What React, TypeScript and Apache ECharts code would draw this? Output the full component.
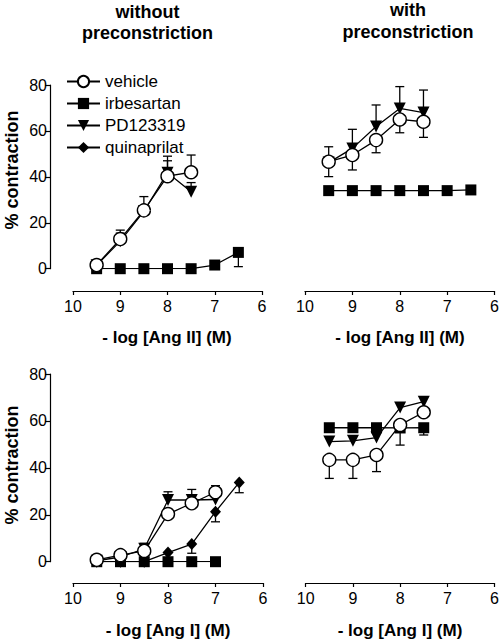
import React, { useEffect, useRef } from 'react';
import * as echarts from 'echarts';

const FONT = '"Liberation Sans", Arial, Helvetica, sans-serif';

// doses (-log M)
const DOSE = [9.5, 9, 8.5, 8, 7.5, 7, 6.5];
const X_TICKS = [10, 9, 8, 7, 6];
const Y_TICKS = [0, 20, 40, 60, 80];
const SERIES_NAMES = ['vehicle', 'irbesartan', 'PD123319', 'quinaprilat'];

// Top-left: Ang II without preconstriction
const tlVehicle = [1.6, 12.9, 25.4, 40.3, 42.0];
const tlVehicleErr = [null, 16.8, 31.4, 47.0, 49.5];
const tlPD = [1.5, 12.0, 25.0, 41.8, 33.5];
const tlPDErr = [null, 15.5, null, 49.0, 37.5];
const tlIrb = [0, 0, 0, 0, 0, 1.6, 7.1];
const tlIrbErr = [null, null, null, null, null, null, 0.9];

// Top-right: Ang II with preconstriction
const trVehicle = [46.6, 49.5, 56.0, 65.0, 64.0];
const trVehicleErr = [40.1, 43.0, 50.5, 59.2, 57.2];
const trPD = [46.2, 52.4, 61.9, 69.8, 68.0];
const trPDErr = [53.1, 60.7, 71.3, 79.3, 77.8];
const trIrb = [34, 34, 34, 34, 34, 34, 34.3];

// Bottom-left: Ang I without preconstriction
const blVehicle = [0.8, 2.8, 4.6, 20.3, 24.9, 29.6];
const blVehicleErr = [null, 4.3, 7.8, null, 30.8, 32.4];
const blPD = [0.4, 2.0, 5.5, 26.3, 26.3, 26.5];
const blPDErr = [null, null, null, 29.8, null, null];
const blQuin = [0, 0, 0, 3.9, 7.5, 21.3, 33.8];
const blQuinErr = [null, null, null, null, 3.6, 17.0, 29.4];
const blIrb = [0, 0, 0, 0, 0, 0];

// Bottom-right: Ang I with preconstriction
const brVehicle = [43.4, 43.4, 45.5, 58.3, 63.7];
const brVehicleErr = [35.5, 35.5, 38.4, 49.7, null];
const brPD = [51.2, 51.5, 52.9, 65.7, 68.2];
const brPDErr = [53.3, 53.6, null, null, 70.3];
const brIrb = [57.1, 57.1, 57.1, 57.0, 57.1];
const brIrbErr = [null, null, null, null, 54.0];

const STYLE: Record<string, any> = {
  vehicle: { symbol: 'circle', symbolSize: 13, itemStyle: { color: '#fff', borderColor: '#000', borderWidth: 1.4 }, z: 6 },
  irbesartan: { symbol: 'rect', symbolSize: 11, itemStyle: { color: '#000', borderColor: '#000', borderWidth: 0 }, z: 4 },
  PD123319: { symbol: 'triangle', symbolSize: 12, symbolRotate: 180, itemStyle: { color: '#000', borderColor: '#000', borderWidth: 0 }, z: 5 },
  quinaprilat: { symbol: 'diamond', symbolSize: [11, 12], itemStyle: { color: '#000', borderColor: '#000', borderWidth: 0 }, z: 3 },
};

function pts(vals: number[]) {
  return vals.map((v, i) => [DOSE[i], v]);
}
function errs(vals: number[], ends: (number | null)[]) {
  const out: number[][] = [];
  ends.forEach((e, i) => {
    if (e !== null && e !== undefined) out.push([DOSE[i], vals[i], e]);
  });
  return out;
}

function lineSeries(name: string, vals: number[], idx: number) {
  const s = STYLE[name];
  return {
    type: 'line',
    name,
    xAxisIndex: idx,
    yAxisIndex: idx,
    data: pts(vals),
    symbol: s.symbol,
    symbolSize: s.symbolSize,
    symbolRotate: s.symbolRotate,
    showAllSymbol: true,
    itemStyle: s.itemStyle,
    lineStyle: { color: '#000', width: 1.3 },
    z: s.z,
    silent: true,
  };
}

function errSeries(data: number[][], idx: number) {
  return {
    type: 'custom',
    name: 'err' + idx,
    xAxisIndex: idx,
    yAxisIndex: idx,
    z: 1,
    silent: true,
    clip: false,
    encode: { x: 0, y: [1, 2] },
    data,
    renderItem: (params: any, api: any) => {
      const x = api.value(0);
      const p0 = api.coord([x, api.value(1)]);
      const p1 = api.coord([x, api.value(2)]);
      const st = { stroke: '#000', lineWidth: 1.3 };
      return {
        type: 'group',
        children: [
          { type: 'line', shape: { x1: p0[0], y1: p0[1], x2: p1[0], y2: p1[1] }, style: st },
          { type: 'line', shape: { x1: p1[0] - 4.5, y1: p1[1], x2: p1[0] + 4.5, y2: p1[1] }, style: st },
        ],
      };
    },
  };
}

function xAxis(idx: number, offset: number) {
  return {
    type: 'value',
    gridIndex: idx,
    min: 6,
    max: 10,
    interval: 1,
    inverse: true,
    offset,
    axisLine: { show: true, onZero: false, lineStyle: { color: '#000', width: 1.2 } },
    axisTick: { show: true, inside: false, length: 4, lineStyle: { color: '#000', width: 1.2 } },
    axisLabel: {
      color: '#000', fontSize: 16, fontFamily: FONT, margin: 7,
      formatter: (v: number) => (X_TICKS.includes(v) ? String(v) : ''),
    },
    splitLine: { show: false },
  };
}

function yAxis(idx: number, show: boolean) {
  return {
    type: 'value',
    gridIndex: idx,
    min: 0,
    max: 80,
    interval: 20,
    show,
    offset: 23,
    axisLine: { show: true, onZero: false, lineStyle: { color: '#000', width: 1.2 } },
    axisTick: { show: true, inside: false, length: 5, lineStyle: { color: '#000', width: 1.2 } },
    axisLabel: {
      color: '#000', fontSize: 16, fontFamily: FONT, margin: 3,
      formatter: (v: number) => (Y_TICKS.includes(v) ? String(v) : ''),
    },
    splitLine: { show: false },
  };
}

function text(str: string, x: number, y: number, size: number, bold: boolean, rotation = 0) {
  return {
    type: 'text',
    x,
    y,
    rotation,
    silent: true,
    style: {
      text: str,
      font: `${bold ? 'bold ' : ''}${size}px ${FONT}`,
      fill: '#000',
      textAlign: 'center',
      textVerticalAlign: 'middle',
      align: 'center',
      verticalAlign: 'middle',
    },
  };
}

export default function App() {
  const ref = useRef<HTMLDivElement>(null);
  useEffect(() => {
    if (!ref.current) return;
    const chart = echarts.init(ref.current, undefined, { renderer: 'svg' });
    const option: any = {
      animation: false,
      backgroundColor: '#fff',
      textStyle: { fontFamily: FONT, color: '#000' },
      grid: [
        { left: 73, top: 85, width: 189, height: 183.7 },
        { left: 305, top: 85, width: 190, height: 183.7 },
        { left: 73, top: 374, width: 190, height: 187.7 },
        { left: 305.7, top: 374, width: 189.3, height: 187.7 },
      ],
      xAxis: [xAxis(0, 22.3), xAxis(1, 22.3), xAxis(2, 21.3), xAxis(3, 21.3)],
      yAxis: [yAxis(0, true), yAxis(1, false), yAxis(2, true), yAxis(3, false)],
      legend: {
        data: SERIES_NAMES,
        orient: 'vertical',
        left: 61,
        top: 68,
        itemWidth: 33,
        itemHeight: 14,
        itemGap: 5,
        selectedMode: false,
        textStyle: { fontSize: 17, fontFamily: FONT, color: '#000' },
      },
      graphic: [
        text('without', 147.5, 11.7, 18, true),
        text('preconstriction', 147.5, 33.3, 18, true),
        text('with', 408, 10, 18, true),
        text('preconstriction', 408, 31.7, 18, true),
        text('% contraction', 12, 170, 18, true, Math.PI / 2),
        text('% contraction', 12, 465, 18, true, Math.PI / 2),
        text('- log [Ang II] (M)', 167, 337, 17, true),
        text('- log [Ang II] (M)', 400, 337, 17, true),
        text('- log [Ang I] (M)', 168, 630, 17, true),
        text('- log [Ang I] (M)', 400, 630, 17, true),
      ],
      series: [
        // top-left
        errSeries([...errs(tlVehicle, tlVehicleErr), ...errs(tlPD, tlPDErr), ...errs(tlIrb, tlIrbErr)], 0),
        lineSeries('irbesartan', tlIrb, 0),
        lineSeries('PD123319', tlPD, 0),
        lineSeries('vehicle', tlVehicle, 0),
        // top-right
        errSeries([...errs(trVehicle, trVehicleErr), ...errs(trPD, trPDErr)], 1),
        lineSeries('irbesartan', trIrb, 1),
        lineSeries('PD123319', trPD, 1),
        lineSeries('vehicle', trVehicle, 1),
        // bottom-left
        errSeries([...errs(blVehicle, blVehicleErr), ...errs(blPD, blPDErr), ...errs(blQuin, blQuinErr)], 2),
        lineSeries('quinaprilat', blQuin, 2),
        lineSeries('irbesartan', blIrb, 2),
        lineSeries('PD123319', blPD, 2),
        lineSeries('vehicle', blVehicle, 2),
        // bottom-right
        errSeries([...errs(brVehicle, brVehicleErr), ...errs(brPD, brPDErr), ...errs(brIrb, brIrbErr)], 3),
        lineSeries('irbesartan', brIrb, 3),
        lineSeries('PD123319', brPD, 3),
        lineSeries('vehicle', brVehicle, 3),
      ],
    };
    chart.setOption(option);
    return () => chart.dispose();
  }, []);
  return (
    <div
      ref={ref}
      style={{ position: 'fixed', left: 0, top: 0, width: 502, height: 640, background: '#fff' }}
    />
  );
}
